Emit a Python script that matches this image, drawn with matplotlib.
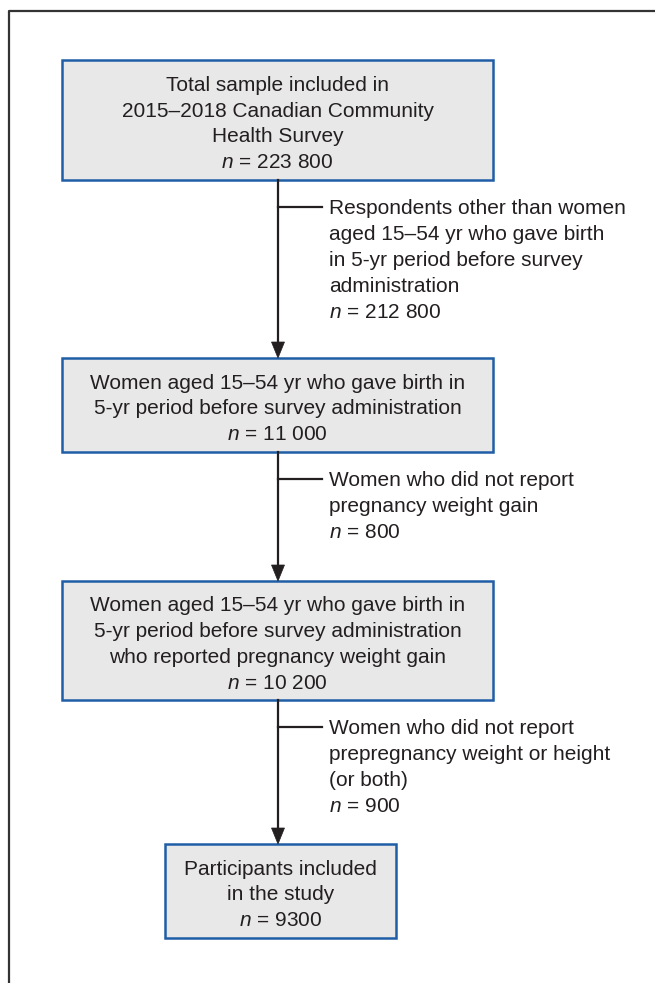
import matplotlib
matplotlib.use("Agg")
import matplotlib.pyplot as plt
from matplotlib.patches import Rectangle, Polygon

plt.rcParams['font.family'] = ['Liberation Sans', 'DejaVu Sans']
plt.rcParams['mathtext.fontset'] = 'custom'
plt.rcParams['mathtext.rm'] = 'Liberation Sans'
plt.rcParams['mathtext.it'] = 'Liberation Sans:italic'

# flowchart content
box_lines = [
    ["Total sample included in", "2015\u20132018 Canadian Community", "Health Survey"],
    ["Women aged 15\u201354 yr who gave birth in", "5-yr period before survey administration"],
    ["Women aged 15\u201354 yr who gave birth in", "5-yr period before survey administration",
     "who reported pregnancy weight gain"],
    ["Participants included", "in the study"],
]
box_n = ["223 800", "11 000", "10 200", "9300"]

excl_lines = [
    ["Respondents other than women", "aged 15\u201354 yr who gave birth",
     "in 5-yr period before survey", "administration"],
    ["Women who did not report", "pregnancy weight gain"],
    ["Women who did not report", "prepregnancy weight or height", "(or both)"],
]
excl_n = ["212 800", "800", "900"]

# layout (pixels, y down)
box_x = [(62, 493), (62, 493), (62, 493), (165, 396)]
box_y = [(60, 180), (358, 452), (581, 700), (844, 938)]
cx = 278
line_h = 25.8
fs = 15
txt_col = "#231f20"
fill_col = "#e8e8e8"
edge_col = "#1f5ea6"

fig = plt.figure(figsize=(6.55, 9.83), dpi=100)
ax = fig.add_axes([0, 0, 1, 1])
ax.set_xlim(0, 655)
ax.set_ylim(983, 0)
ax.axis('off')

# outer frame (left and top only)
ax.plot([9, 9, 655], [983, 11, 11], color="#333333", lw=1.6, solid_capstyle='butt')


def block(x, ytop, lines, n, ha):
    allines = lines + ["$n$ = " + n]
    for i, s in enumerate(allines):
        ax.text(x, ytop + i * line_h + 7.5, s, ha=ha, va='baseline',
                fontsize=fs, color=txt_col)


for (x0, x1), (y0, y1), lines, n in zip(box_x, box_y, box_lines, box_n):
    ax.add_patch(Rectangle((x0, y0), x1 - x0, y1 - y0, facecolor=fill_col,
                           edgecolor=edge_col, lw=1.8))
    nl = len(lines) + 1
    first = (y0 + y1) / 2 - (nl - 1) * line_h / 2 + 2
    block((x0 + x1) / 2, first, lines, n, 'center')

for k, (lines, n) in enumerate(zip(excl_lines, excl_n)):
    ytop = box_y[k][1]
    ybot = box_y[k + 1][0]
    yb = ytop + 27
    ax.plot([cx, cx], [ytop, ybot - 14], color=txt_col, lw=1.6)
    ax.add_patch(Polygon([[cx - 6.5, ybot - 16], [cx + 6.5, ybot - 16], [cx, ybot]],
                         closed=True, facecolor=txt_col, edgecolor=txt_col, lw=0.5))
    ax.plot([cx, 322], [yb, yb], color=txt_col, lw=1.6)
    block(329, yb, lines, n, 'left')

fig.savefig("out.png", dpi=100)
